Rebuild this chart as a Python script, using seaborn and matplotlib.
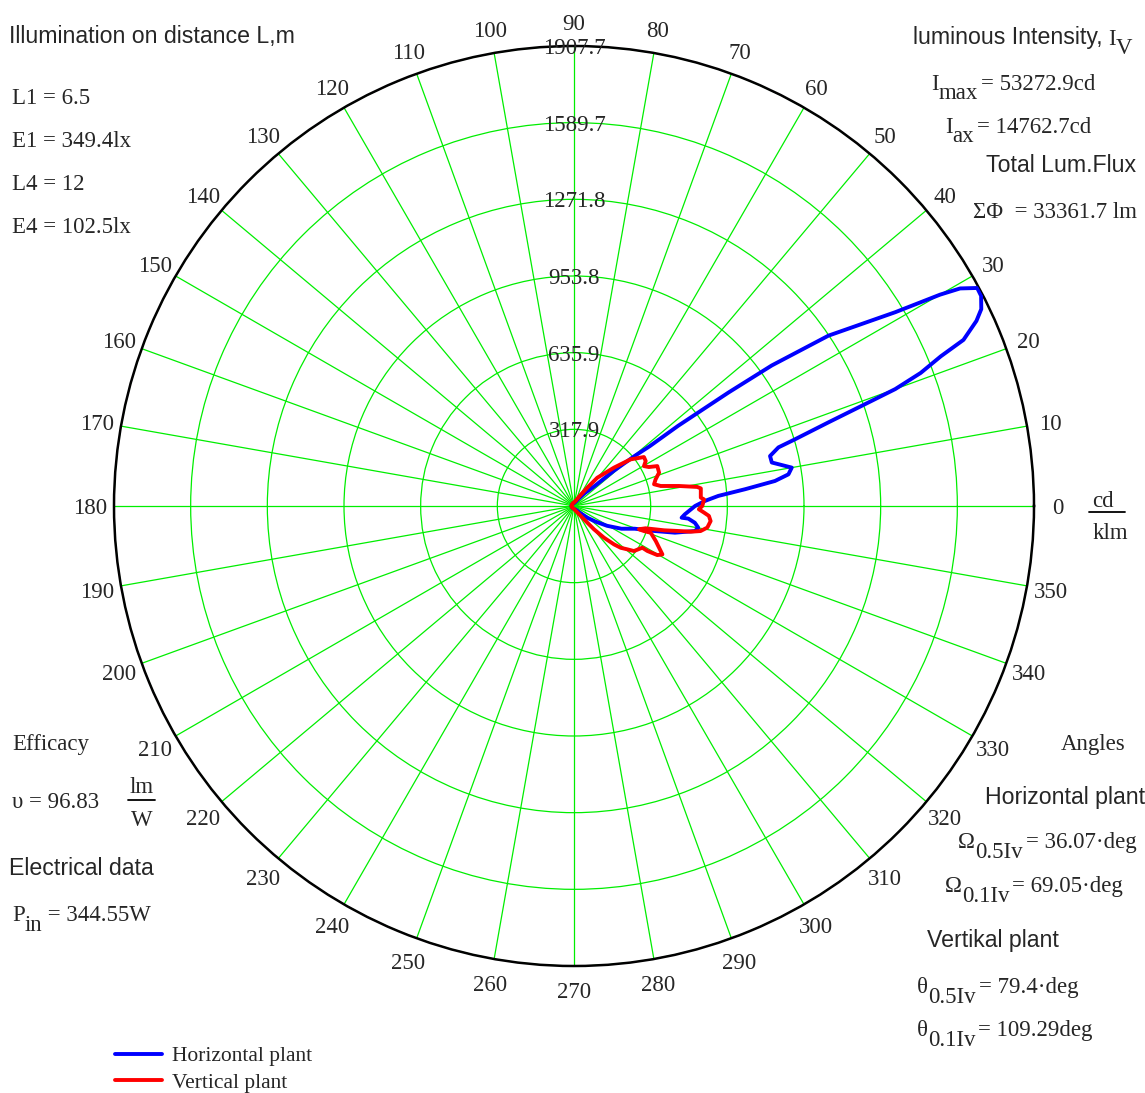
import numpy as np
import pandas as pd
import matplotlib.pyplot as plt
import seaborn as sns
from matplotlib.lines import Line2D

# polar diagram of luminous intensity, cd/klm

# horizontal plant (blue) - angle in deg, intensity in cd/klm, in drawing order
horiz_deg = [180, 150, 120, 90, 70, 58, 50, 44, 41.5, 39.5, 38.3, 37.6, 36.3, 35.4, 33.8, 31.1, 30.0,
             29.4, 28.4, 27.3, 25.8, 24.7, 23.1, 22.2, 21.0, 20.0, 19.2, 18.2, 16.8, 16.0, 14.3, 12.4,
             10.0, 8.4, 7.1, 5.6, 4.0, 2.2, 0.0, -4.3, -6.2, -6.3, -7.9, -9.9, -11.7, -14.8, -17.2,
             -20.5, -25.6, -30.9, -36, -41, -48, -60, -90, -120, -150, -180]
horiz_val = [10, 10, 10, 12, 18, 35, 70, 120, 220, 327, 400, 545, 795, 1006, 1270, 1556, 1753,
             1838, 1901, 1900, 1876, 1837, 1756, 1643, 1540, 1418, 1264, 1111, 958, 882, 839, 840,
             917, 899, 840, 713, 600, 543, 502, 461, 449, 477, 506, 523, 512, 433, 351,
             269, 218, 160, 110, 75, 40, 20, 12, 10, 10, 10]

# vertical plant (red)
vert_deg = [180, 150, 120, 90, 70, 60, 54, 50.5, 43.8, 39.5, 35, 32.1, 29.7, 27.5, 25.6, 21.4, 18.1,
            15.2, 13, 10.8, 8.8, 7.9, 3.8, 2.9, 0, -1.5, -2.9, -4.2, -6.3, -9.2, -11.2, -12.4, -13.6,
            -15.1, -17.3, -19.7, -19.7, -19.2, -23.2, -28.7, -30.5, -31.5, -31.4, -36.9, -39.1,
            -41.8, -43.8, -46.6, -49.4, -53, -60, -75, -90, -120, -150, -180]
vert_val = [10, 10, 12, 15, 25, 50, 94, 152, 230, 304, 354, 351, 334, 350, 383, 379, 356,
            344, 369, 443, 517, 531, 527, 540, 532, 518, 540, 561, 570, 560, 535, 496, 440,
            387, 311, 286, 308, 337, 369, 418, 401, 357, 332, 311, 285,
            260, 230, 181, 127, 69, 35, 18, 12, 10, 10, 10]

ring_vals = [317.95, 635.9, 953.85, 1271.8, 1589.75, 1907.7]
ring_labels = ['317.9', '635.9', '953.8', '1271.8', '1589.7', '1907.7']
angle_ticks = list(range(0, 360, 10))

W, H = 1145, 1093
FS = 16.5   # serif text
FSS = 16.7  # sans text
sns.set_theme(style='white')
plt.rcParams['font.family'] = ['Liberation Serif', 'DejaVu Serif']
plt.rcParams['mathtext.fontset'] = 'stix'

fig = plt.figure(figsize=(W / 100, H / 100), dpi=100)
fig.patch.set_facecolor('white')
ax = fig.add_axes([114 / W, 1 - 966 / H, 920 / W, 920 / H], projection='polar')
ax.set_facecolor('white')

df_h = pd.DataFrame({'theta': np.deg2rad(horiz_deg), 'r': horiz_val})
df_v = pd.DataFrame({'theta': np.deg2rad(vert_deg), 'r': vert_val})
sns.lineplot(data=df_h, x='theta', y='r', sort=False, estimator=None, color='#0000ff', lw=2.8, ax=ax, zorder=4)
sns.lineplot(data=df_v, x='theta', y='r', sort=False, estimator=None, color='#ff0000', lw=2.8, ax=ax, zorder=5)

ax.set_ylim(0, 1907.7)
ax.set_xticks(np.deg2rad(angle_ticks))
ax.set_xticklabels([])
ax.set_yticks(ring_vals)
ax.set_yticklabels([])
ax.set_xlabel('')
ax.set_ylabel('')
ax.tick_params(length=0)
ax.grid(True, color='#00ee00', lw=0.9)
ax.spines['polar'].set_color('black')
ax.spines['polar'].set_linewidth(1.8)

# angle labels and ring values
r_lab = 1907.7 * 484 / 460
for d in angle_ticks:
    ax.text(np.deg2rad(d), r_lab, str(d), ha='center', va='center_baseline', fontsize=FS, clip_on=False)
for v, s in zip(ring_vals, ring_labels):
    ax.text(np.pi / 2, v, s, ha='center', va='center_baseline', fontsize=FS, zorder=6)


def txt(x, y, s, **kw):
    kw.setdefault('fontsize', FS)
    kw.setdefault('ha', 'left')
    return fig.text(x / W, 1 - y / H, s, va='center_baseline', **kw)


def chain(x, y, pieces, size=FS, gap=0):
    # pieces: (string, drop in px) - subscripts in full size, just lowered
    prev = txt(x, y, pieces[0][0], fontsize=size)
    prev_dy = pieces[0][1]
    for s, dy in pieces[1:]:
        dx = gap if dy == 0 else 0
        prev = ax.annotate(s, xy=(1, 0), xycoords=prev, xytext=(dx, prev_dy - dy),
                           textcoords='offset pixels', va='bottom', ha='left',
                           fontsize=size, annotation_clip=False)
        prev_dy = dy


def hline(x0, x1, y):
    fig.add_artist(Line2D([x0 / W, x1 / W], [1 - y / H] * 2, color='black', lw=1.3))


sans = 'Liberation Sans'

# left side
txt(9, 34, 'Illumination on distance L,m', family=sans, fontsize=FSS)
txt(12, 96, 'L1 = 6.5')
txt(12, 139, 'E1 = 349.4lx')
txt(12, 182, 'L4 = 12')
txt(12, 225, 'E4 = 102.5lx')
txt(12, 742, 'Efficacy')
txt(12, 800, 'υ = 96.83')
txt(142, 785, 'lm', ha='center')
hline(128, 155, 800)
txt(142, 818, 'W', ha='center')
txt(9, 866, 'Electrical data', family=sans, fontsize=FSS)
chain(12, 913, [('P', 0), ('in', 10), (' = 344.55W', 0)])

# right side
txt(913, 35, 'luminous Intensity,', family=sans, fontsize=FSS)
chain(1108, 37, [('I', 0), ('V', 9)])
chain(931, 82, [('I', 0), ('max', 9), ('= 53272.9cd', 0)], gap=3)
chain(945, 125, [('I', 0), ('ax', 9), ('= 14762.7cd', 0)], gap=3)
txt(986, 163, 'Total Lum.Flux', family=sans, fontsize=FSS)
txt(973, 210, 'ΣΦ  = 33361.7 lm')
txt(1103, 499, 'cd', ha='center')
hline(1089, 1125, 512)
txt(1110, 531, 'klm', ha='center')

txt(1061, 742, 'Angles')
txt(985, 795, 'Horizontal plant', family=sans, fontsize=FSS)
chain(958, 840, [('Ω', 0), ('0.5Iv', 10), ('= 36.07·deg', 0)], gap=3)
chain(945, 884, [('Ω', 0), ('0.1Iv', 10), ('= 69.05·deg', 0)], gap=3)
txt(927, 938, 'Vertikal plant', family=sans, fontsize=FSS)
chain(917, 985, [('θ', 0), ('0.5Iv', 10), ('= 79.4·deg', 0)], gap=3)
chain(917, 1028, [('θ', 0), ('0.1Iv', 10), ('= 109.29deg', 0)], gap=3)

# legend
handles = [Line2D([], [], color='#0000ff', lw=2.8), Line2D([], [], color='#ff0000', lw=2.8)]
fig.legend(handles, ['Horizontal plant', 'Vertical plant'], loc='upper left',
           bbox_to_anchor=(115 / W, 1 - 1046 / H), frameon=False, fontsize=15.5,
           handlelength=2.2, handletextpad=0.47, borderpad=0, borderaxespad=0, labelspacing=0.3)

fig.savefig('out.png', dpi=100, facecolor='white')
